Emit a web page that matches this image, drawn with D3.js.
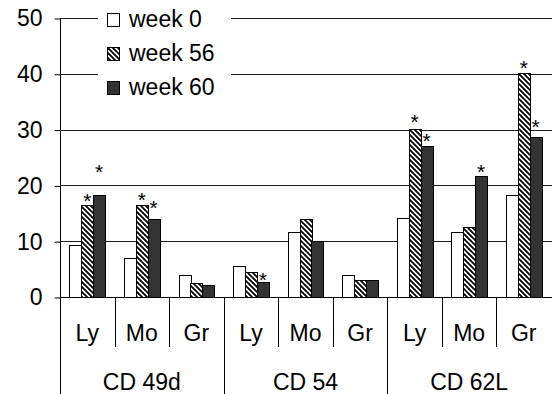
<!DOCTYPE html>
<html><head><meta charset="utf-8">
<script src="https://cdn.jsdelivr.net/npm/d3@7"></script>
<style>html,body{margin:0;padding:0;background:#fff;}svg{display:block;}</style>
</head><body>
<svg id="chart" width="552" height="394"></svg>
<script>
const groups = ["CD 49d", "CD 54", "CD 62L"];
const cells = ["Ly", "Mo", "Gr"];
const seriesNames = ["week 0", "week 56", "week 60"];
const week0  = [9.3, 6.9, 3.9, 5.6, 11.7, 3.9, 14.1, 11.7, 18.3];
const week56 = [16.5, 16.5, 2.5, 4.4, 13.9, 3.0, 30.1, 12.5, 40.1];
const week60 = [18.2, 14.0, 2.2, 2.7, 10.0, 3.0, 27.1, 21.7, 28.6];
const yTicks = [0, 10, 20, 30, 40, 50];
// significance stars: [category index, series index, value where star sits]
const stars = [[0,1,17.9],[0,2,23.1],[1,1,18.1],[1,2,16.7],[3,2,3.8],
               [6,1,32.0],[6,2,28.6],[7,2,23.2],[8,1,41.8],[8,2,31.2]];

const series = [week0, week56, week60];
const fills = ["#ffffff", "url(#hatch)", "#333333"];
const catKeys = d3.range(groups.length * cells.length);

const svg = d3.select("#chart");
const font = "'Liberation Sans', Arial, sans-serif";
const FS = 23;
const M = {l: 60, r: 551, t: 18, b: 297};

const defs = svg.append("defs");
const pat = defs.append("pattern").attr("id","hatch").attr("patternUnits","userSpaceOnUse")
  .attr("width",5).attr("height",5);
pat.append("rect").attr("width",5).attr("height",5).attr("fill","#fff");
pat.append("path").attr("d","M-1,-1L6,6M-1,4L1,6M4,-1L6,1").attr("stroke","#000").attr("stroke-width",1.8);

const y = d3.scaleLinear().domain([0,50]).range([M.b, M.t]);
const x0 = d3.scaleBand().domain(catKeys).range([M.l, M.r]).paddingInner(0).paddingOuter(0);
const x1 = d3.scaleBand().domain(d3.range(3)).range([0, x0.bandwidth()]).paddingOuter(0.8).paddingInner(0);

// gridlines
svg.append("g").selectAll("line").data(yTicks.filter(d=>d>0)).join("line")
  .attr("x1", M.l).attr("x2", M.r+1)
  .attr("y1", d=>Math.round(y(d))+0.5).attr("y2", d=>Math.round(y(d))+0.5)
  .attr("stroke","#1a1a1a").attr("stroke-width",1);

// y axis
const yAxis = d3.axisLeft(y).tickValues(yTicks).tickSize(6).tickPadding(12);
const ga = svg.append("g").attr("transform",`translate(${M.l+0.5},0.5)`).call(yAxis);
ga.select(".domain").attr("d", `M0,${y(50)}V${M.b}`).attr("stroke","#000");
ga.selectAll(".tick line").attr("stroke","#000");
ga.selectAll(".tick text").attr("font-family",font).attr("font-size",FS).attr("fill","#000");

// bars
const bars = svg.append("g");
series.forEach((vals, si) => {
  bars.selectAll(null).data(vals).join("rect")
    .attr("x", (d,i)=>Math.round(x0(i)+x1(si))+0.5)
    .attr("y", d=>Math.round(y(d))+0.5)
    .attr("width", Math.round(x1.bandwidth()))
    .attr("height", d=>Math.round(y(0))-Math.round(y(d)))
    .attr("fill", fills[si]).attr("stroke","#000").attr("stroke-width",1);
});

// stars
svg.append("g").selectAll("text").data(stars).join("text")
  .attr("x", d=>x0(d[0])+x1(d[1])+x1.bandwidth()/2)
  .attr("y", d=>y(d[2])+11)
  .attr("text-anchor","middle").attr("font-family",font).attr("font-size",21)
  .text("*");

// x axis
const xa = svg.append("g");
xa.append("line").attr("x1",M.l).attr("x2",M.r+1).attr("y1",M.b+0.5).attr("y2",M.b+0.5).attr("stroke","#000");
xa.append("line").attr("x1",M.l+0.5).attr("x2",M.l+0.5).attr("y1",M.b).attr("y2",394).attr("stroke","#000");
catKeys.forEach(i=>{
  const xr = Math.round(x0(i)+x0.bandwidth())+0.5;
  const isGroupEnd = (i % 3) === 2;
  if (i < catKeys.length-1)
    xa.append("line").attr("x1",xr).attr("x2",xr).attr("y1",M.b).attr("y2", isGroupEnd ? 394 : 347).attr("stroke","#000");
  xa.append("text").attr("x", x0(i)+x0.bandwidth()/2).attr("y", 341)
    .attr("text-anchor","middle").attr("font-family",font).attr("font-size",FS).text(cells[i%3]);
});
groups.forEach((g,gi)=>{
  xa.append("text").attr("x", (x0(gi*3)+x0(gi*3+2)+x0.bandwidth())/2).attr("y", 390)
    .attr("text-anchor","middle").attr("font-family",font).attr("font-size",FS).text(g);
});

// legend
const lg = svg.append("g");
lg.append("rect").attr("x",98).attr("y",0).attr("width",133).attr("height",104).attr("fill","#fff");
seriesNames.forEach((n,i)=>{
  const by = 27 + i*33.8;
  lg.append("rect").attr("x",107.5).attr("y",Math.round(by-14)+0.5).attr("width",12).attr("height",13)
    .attr("fill",fills[i]).attr("stroke","#000");
  lg.append("text").attr("x",129).attr("y",by).attr("font-family",font).attr("font-size",FS).text(n);
});
</script>
</body></html>
